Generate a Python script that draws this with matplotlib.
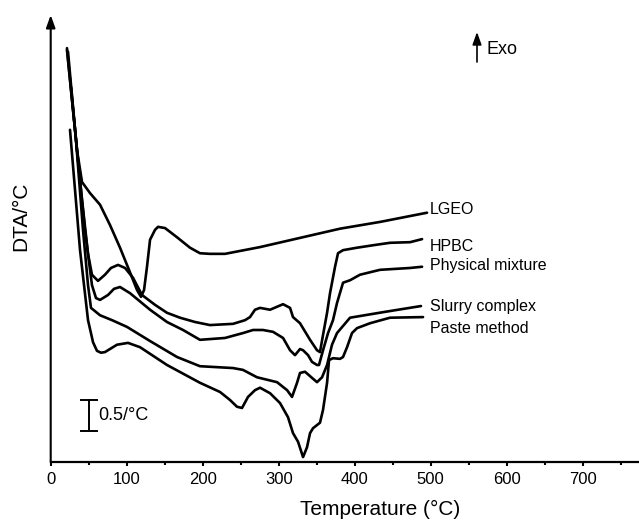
import matplotlib
matplotlib.use('Agg')
import matplotlib.pyplot as plt
from matplotlib.ticker import MultipleLocator

plt.rcParams['font.family'] = ['Liberation Sans', 'DejaVu Sans']

# ---- data (temperature in °C, DTA signal in arbitrary offset units; 0.5 = scale bar) ----
lgeo_T = [21.4, 28.0, 34.6, 41.2, 51.7, 64.9, 78.0, 91.2, 104.3, 113.6, 118.8, 122.8, 126.7,
          130.7, 137.2, 141.2, 150.4, 166.2, 183.3, 196.4, 209.6, 229.3, 275.4, 328.0, 380.7,
          433.3, 495.1]
lgeo_v = [6.74, 5.90, 5.08, 4.56, 4.38, 4.19, 3.86, 3.49, 3.09, 2.80, 2.69, 2.80, 3.18,
          3.62, 3.78, 3.83, 3.81, 3.66, 3.49, 3.40, 3.39, 3.39, 3.50, 3.65, 3.80,
          3.91, 4.06]

hpbc_T = [21.4, 32.0, 41.2, 49.1, 54.3, 62.2, 71.4, 79.3, 88.6, 97.8, 108.3, 120.1, 137.2,
          153.0, 170.1, 189.9, 209.6, 239.9, 255.7, 262.2, 268.8, 275.4, 288.6, 305.7, 314.9,
          318.8, 328.0, 341.2, 350.4, 354.3, 358.3, 363.6, 367.5, 374.1, 378.0, 384.6, 403.0,
          424.1, 446.4, 472.8, 488.6]
hpbc_v = [6.71, 5.41, 4.27, 3.39, 3.05, 2.95, 3.05, 3.16, 3.21, 3.16, 3.00, 2.72, 2.56,
          2.43, 2.35, 2.28, 2.23, 2.25, 2.31, 2.36, 2.48, 2.51, 2.48, 2.57, 2.51,
          2.36, 2.26, 1.99, 1.82, 1.79, 2.07, 2.43, 2.75, 3.18, 3.40, 3.45, 3.49,
          3.53, 3.57, 3.58, 3.63]

phys_T = [26.7, 35.9, 45.1, 54.3, 59.6, 64.9, 75.4, 83.3, 91.2, 104.3, 130.7, 153.0, 174.1,
          196.4, 229.3, 253.0, 266.2, 279.3, 292.5, 305.7, 314.9, 321.4, 328.0, 332.0, 338.6,
          343.8, 350.4, 353.0, 358.3, 364.9, 371.4, 376.7, 384.6, 393.8, 406.9, 433.3, 472.8,
          488.6]
phys_v = [6.11, 4.92, 3.78, 2.88, 2.67, 2.64, 2.72, 2.82, 2.85, 2.75, 2.48, 2.28, 2.15,
          1.99, 2.02, 2.10, 2.15, 2.15, 2.12, 2.02, 1.82, 1.74, 1.84, 1.82, 1.74,
          1.63, 1.58, 1.58, 1.82, 2.10, 2.31, 2.59, 2.92, 2.96, 3.05, 3.13, 3.16,
          3.18]

slurry_T = [22.8, 33.3, 42.5, 49.1, 53.0, 64.9, 80.7, 100.4, 130.7, 166.2, 196.4, 239.9, 253.0,
            271.4, 297.8, 311.0, 317.5, 324.1, 328.0, 334.6, 343.8, 350.4, 357.0, 363.6, 370.1,
            376.7, 393.8, 437.2, 487.2]
slurry_v = [6.68, 5.24, 3.78, 2.88, 2.51, 2.39, 2.31, 2.20, 1.97, 1.71, 1.56, 1.53, 1.50,
            1.38, 1.30, 1.17, 1.06, 1.29, 1.45, 1.47, 1.37, 1.30, 1.38, 1.58, 1.91,
            2.10, 2.35, 2.44, 2.54]

paste_T = [25.4, 38.6, 49.1, 55.7, 60.9, 66.2, 71.4, 87.2, 101.7, 117.5, 153.0, 196.4, 222.8,
           235.9, 245.1, 251.7, 259.6, 268.8, 275.4, 288.6, 301.7, 312.2, 318.8, 325.4, 332.0,
           337.2, 341.2, 345.1, 354.3, 358.3, 363.6, 366.2, 371.4, 380.7, 384.6, 389.9, 396.4,
           403.0, 420.1, 446.4, 489.9]
paste_v = [5.41, 3.45, 2.31, 1.95, 1.81, 1.78, 1.79, 1.91, 1.94, 1.87, 1.58, 1.29, 1.14,
           1.01, 0.90, 0.88, 1.06, 1.17, 1.21, 1.12, 0.96, 0.73, 0.47, 0.33, 0.08,
           0.24, 0.47, 0.55, 0.64, 0.85, 1.29, 1.66, 1.69, 1.68, 1.71, 1.87, 2.10,
           2.18, 2.26, 2.35, 2.36]

series_names = ['LGEO', 'HPBC', 'Physical mixture', 'Slurry complex', 'Paste method']
label_T = 499
label_v = [4.04, 3.43, 3.13, 2.46, 2.10]

x_ticks = [0, 100, 200, 300, 400, 500, 600, 700]

# ---- figure ----
fig = plt.figure(figsize=(6.39, 5.21), dpi=100)
ax = fig.add_axes([50.7 / 639, 59 / 521, (639 - 50.7) / 639, 447 / 521])
ax.set_xlim(0, 774)
ax.set_ylim(0, 7.28)

for T, v in [(lgeo_T, lgeo_v), (hpbc_T, hpbc_v), (phys_T, phys_v),
             (slurry_T, slurry_v), (paste_T, paste_v)]:
    ax.plot(T, v, color='black', lw=1.9, solid_joinstyle='round', solid_capstyle='round')

for name, yv in zip(series_names, label_v):
    ax.text(label_T, yv, name, fontsize=11.5, ha='left', va='baseline')

# spines / ticks
for s in ['top', 'right', 'left']:
    ax.spines[s].set_visible(False)
ax.spines['bottom'].set_linewidth(1.6)
ax.set_yticks([])
ax.set_xticks(x_ticks)
ax.xaxis.set_minor_locator(MultipleLocator(50))
ax.tick_params(axis='x', which='major', direction='out', length=3, width=1.5,
               labelsize=12, pad=4)
ax.tick_params(axis='x', which='minor', direction='out', length=2.5, width=1.5)

# y axis arrow
ax.annotate('', xy=(0, 1), xycoords='axes fraction', xytext=(0, 0),
            textcoords='axes fraction',
            arrowprops=dict(arrowstyle='-|>,head_length=0.75,head_width=0.27',
                            lw=1.5, color='black', shrinkA=0, shrinkB=0),
            annotation_clip=False)

# Exo arrow
fig.patches  # noqa
ax.annotate('', xy=(477, 489), xycoords='figure pixels', xytext=(477, 459),
            textcoords='figure pixels',
            arrowprops=dict(arrowstyle='-|>,head_length=0.75,head_width=0.27',
                            lw=1.2, color='black', shrinkA=0, shrinkB=0),
            annotation_clip=False)
fig.text(487 / 639, 471 / 521, 'Exo', fontsize=13, ha='left', va='center')

# scale bar (0.5 units)
ax.plot([50.4, 50.4], [0.505, 1.005], color='black', lw=1.4)
ax.plot([40.4, 60.4], [1.005, 1.005], color='black', lw=1.4)
ax.plot([40.4, 60.4], [0.505, 0.505], color='black', lw=1.4)
ax.text(62, 0.75, '0.5/°C', fontsize=13, ha='left', va='center')

# axis labels
fig.text(380 / 639, 6 / 521, 'Temperature (°C)', fontsize=15, ha='center', va='baseline')
fig.text(21 / 639, 305 / 521, 'DTA/°C', fontsize=15, ha='center', va='center', rotation=90)

fig.savefig('out.png', dpi=100)
